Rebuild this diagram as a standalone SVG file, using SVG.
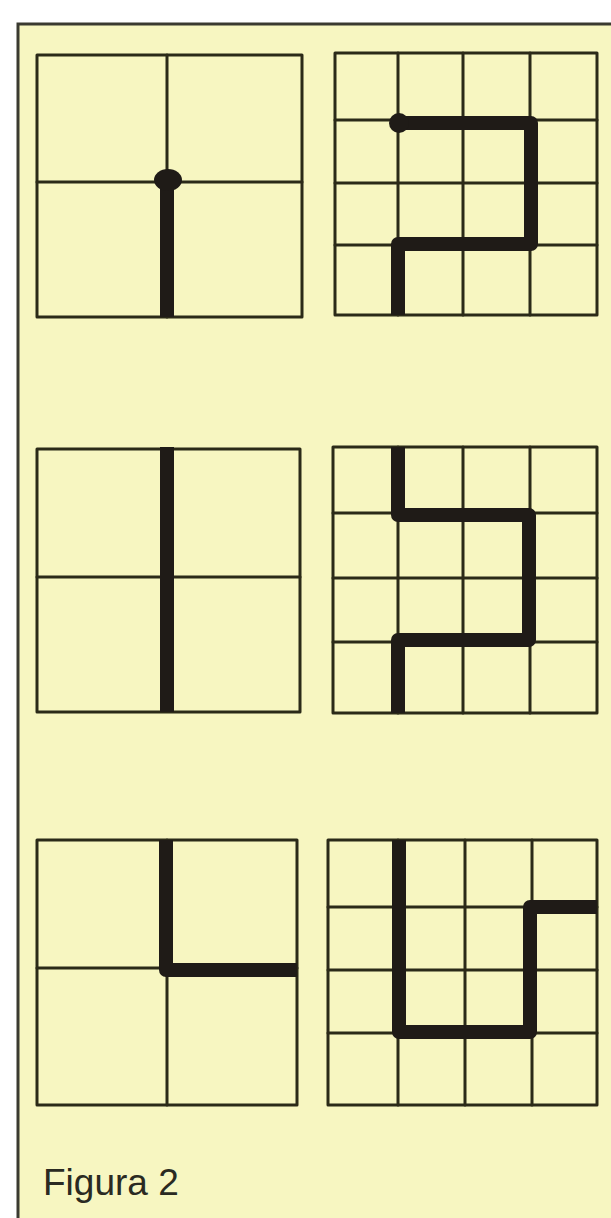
<svg xmlns="http://www.w3.org/2000/svg" width="611" height="1218" viewBox="0 0 611 1218">
<style>
.grid{fill:none;stroke:#2b2a18;stroke-width:3;stroke-linecap:round;stroke-linejoin:round}
.path{fill:none;stroke:#1f1b17;stroke-width:14;stroke-linecap:butt;stroke-linejoin:round}
.dot{fill:#1f1b17}
.label{font-family:"Liberation Sans",Arial,sans-serif;font-size:37px;fill:#2a2a22}
</style>
<rect x="0" y="0" width="611" height="1218" fill="#ffffff"/>
<rect x="18" y="24" width="600" height="1200" fill="#f7f6c1"/>
<path d="M18,1218 V24 H611" fill="none" stroke="#3a3a30" stroke-width="3"/>

<g id="panel1">
<rect class="grid" x="37" y="55" width="265" height="262"/>
<path class="grid" d="M167,55 V317 M37,182 H302"/>
<path class="path" d="M167,182 V317"/>
<ellipse class="dot" cx="168" cy="180" rx="14" ry="11"/>
</g>

<g id="panel2">
<rect class="grid" x="335" y="53" width="262" height="262"/>
<path class="grid" d="M398,53 V315 M463,53 V315 M530,53 V315 M335,120 H597 M335,183 H597 M335,245 H597"/>
<path class="path" d="M398,123 H531 V244 H398 V315"/>
<circle class="dot" cx="399" cy="123" r="10"/>
</g>

<g id="panel3">
<rect class="grid" x="37" y="449" width="263" height="263"/>
<path class="grid" d="M37,577 H300"/>
<path class="path" d="M167,447 V712"/>
</g>

<g id="panel4">
<rect class="grid" x="333" y="447" width="264" height="266"/>
<path class="grid" d="M398,447 V713 M463,447 V713 M530,447 V713 M333,513 H597 M333,578 H597 M333,642 H597"/>
<path class="path" d="M398,447 V515 H529 V640 H398 V713"/>
</g>

<g id="panel5">
<rect class="grid" x="37" y="840" width="260" height="265"/>
<path class="grid" d="M167,840 V1105 M37,968 H297"/>
<path class="path" d="M166,840 V970 H297"/>
</g>

<g id="panel6">
<rect class="grid" x="328" y="840" width="269" height="265"/>
<path class="grid" d="M398,840 V1105 M465,840 V1105 M532,840 V1105 M328,907 H597 M328,970 H597 M328,1033 H597"/>
<path class="path" d="M399,840 V1032 H530 V907 H597"/>
</g>

<text class="label" x="43" y="1195">Figura 2</text>
</svg>
